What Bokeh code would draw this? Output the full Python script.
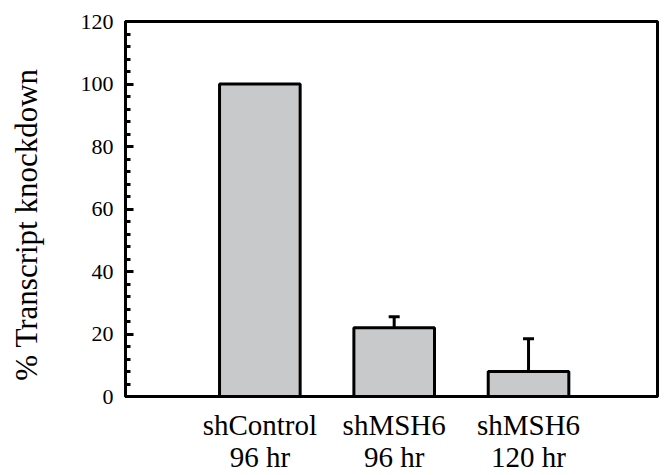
import math
from bokeh.plotting import figure
from bokeh.models import ColumnDataSource, Whisker, TeeHead, Range1d, FixedTicker, LinearAxis
from bokeh.embed import file_html
from bokeh.resources import INLINE

cat_line1 = ["shControl", "shMSH6", "shMSH6"]
cat_line2 = ["96 hr", "96 hr", "120 hr"]
positions = [1, 2, 3]
values = [100, 22, 8]
upper_err = [100, 25.5, 18.5]
y_ticks = [0, 20, 40, 60, 80, 100, 120]

FONT = "'Liberation Serif'"

p = figure(width=662, height=475, frame_width=532, frame_height=375,
           output_backend="svg", toolbar_location=None,
           x_range=Range1d(0, 3.96), y_range=Range1d(0, 120),
           min_border_left=125, min_border_right=5, min_border_top=21, min_border_bottom=79)

src = ColumnDataSource(dict(x=positions, top=values))
p.vbar(x="x", top="top", width=0.6, bottom=0, source=src,
       fill_color="#c8c9ca", line_color="black", line_width=3)

err_src = ColumnDataSource(dict(x=positions[1:], lower=values[1:], upper=upper_err[1:]))
w = Whisker(base="x", lower="lower", upper="upper", source=err_src,
            line_color="black", line_width=3,
            upper_head=TeeHead(size=11, line_width=3, line_color="black"),
            lower_head=None)
p.add_layout(w)

p.xgrid.visible = False
p.ygrid.visible = False
p.outline_line_color = "black"
p.outline_line_width = 3
p.outline_line_alpha = 1
p.background_fill_color = "white"
p.border_fill_color = "white"

ya = p.yaxis[0]
ya.ticker = FixedTicker(ticks=y_ticks, minor_ticks=list(range(0, 121, 4)))
ya.major_tick_in = 8
ya.major_tick_out = 0
ya.minor_tick_in = 5
ya.minor_tick_out = 0
ya.major_tick_line_width = 3
ya.minor_tick_line_width = 3
ya.axis_line_width = 3
ya.major_label_text_font = FONT
ya.major_label_text_font_size = "22px"
ya.major_label_text_color = "black"
ya.major_label_standoff = 12
ya.axis_label = "% Transcript knockdown" + "\u00a0" * 4
ya.axis_label_text_font = FONT
ya.axis_label_text_font_size = "31px"
ya.axis_label_text_font_style = "normal"
ya.axis_label_text_color = "black"
ya.axis_label_standoff = 34

def style_x(ax, labels, standoff):
    ax.ticker = FixedTicker(ticks=positions)
    ax.major_label_overrides = {pos: lab for pos, lab in zip(positions, labels)}
    ax.major_tick_line_color = None
    ax.minor_tick_line_color = None
    ax.major_label_text_font = FONT
    ax.major_label_text_font_size = "29px"
    ax.major_label_text_color = "black"
    ax.major_label_standoff = standoff

xa = p.xaxis[0]
style_x(xa, cat_line1, 6)
xa.axis_line_width = 3

xa2 = LinearAxis()
style_x(xa2, cat_line2, -9)
xa2.axis_line_color = None
p.add_layout(xa2, "below")

open("out.html", "w").write(file_html(p, INLINE))
